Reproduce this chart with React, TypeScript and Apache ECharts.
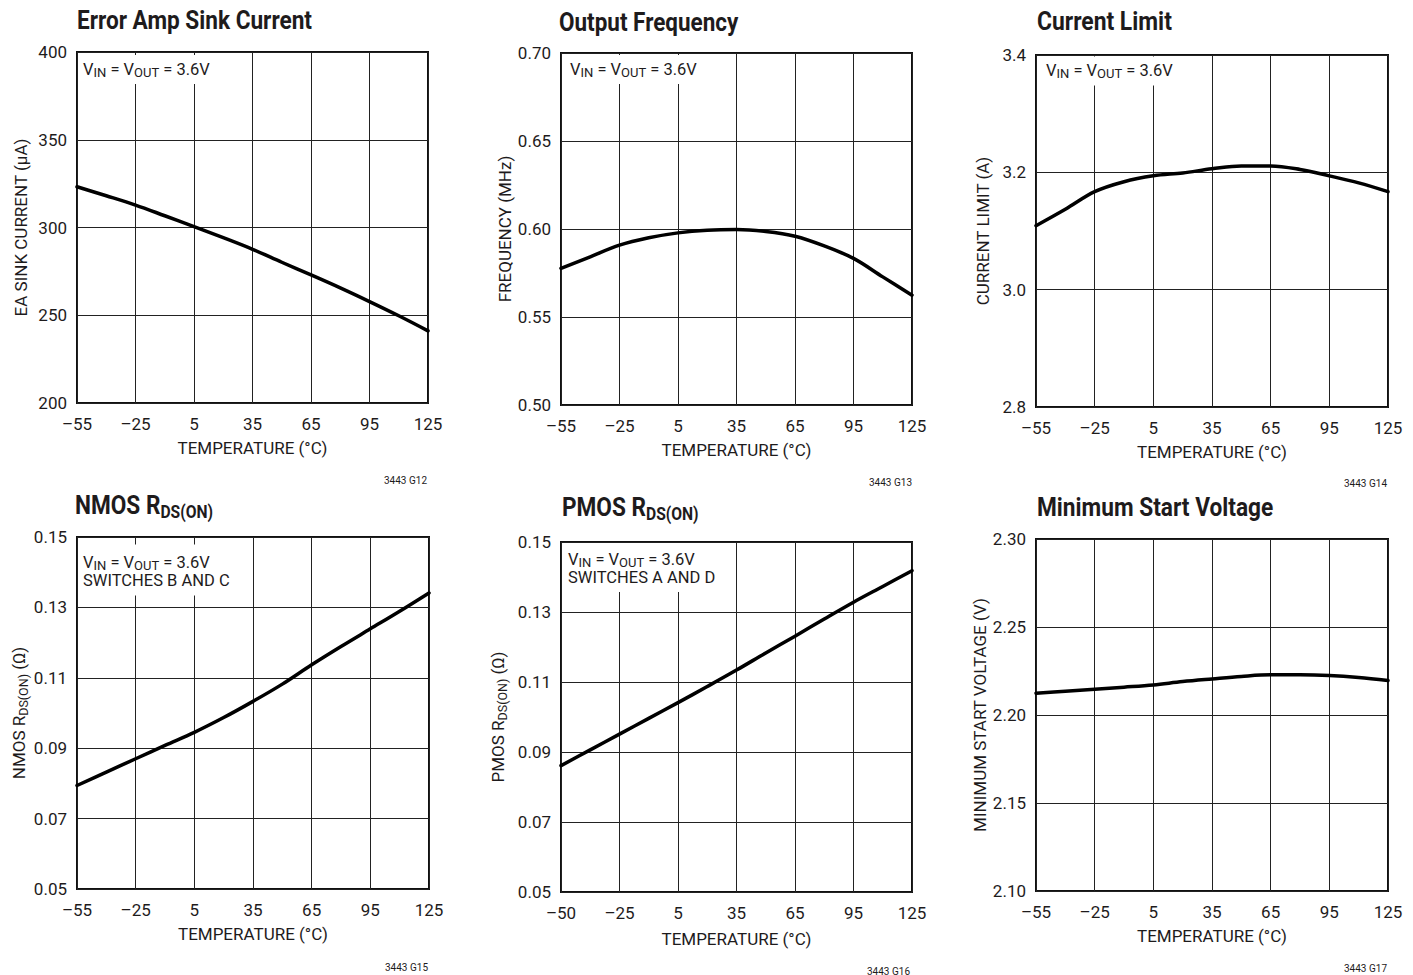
import React, { useEffect, useRef } from "react";
import * as echarts from "echarts";

const FONT = "Roboto, 'Liberation Sans', sans-serif";
const TXT = "#1e1b1c";

// ---- data ----
const temperatures = [-55, -40, -25, -10, 5, 20, 35, 50, 65, 80, 95, 110, 125];

const eaSinkCurrent = [323.2, 318.1, 312.8, 306.7, 300.5, 294.2, 287.6, 280.2, 273.0, 265.6, 257.8, 249.7, 241.1];
const outputFrequency = [0.5776, 0.5842, 0.5908, 0.595, 0.5978, 0.5993, 0.5997, 0.5986, 0.5959, 0.5904, 0.5833, 0.5728, 0.5624];
const currentLimit = [3.109, 3.137, 3.167, 3.184, 3.194, 3.199, 3.206, 3.211, 3.211, 3.205, 3.194, 3.182, 3.167];
const nmosRdsOn = [0.0794, 0.0832, 0.087, 0.0908, 0.0945, 0.0987, 0.1033, 0.1082, 0.1137, 0.1189, 0.1239, 0.1289, 0.1341];
const pmosRdsOn = [0.0861, 0.0906, 0.0951, 0.0996, 0.1041, 0.1087, 0.1134, 0.1183, 0.1231, 0.128, 0.1328, 0.1373, 0.1418];
const minStartVoltage = [2.2124, 2.2135, 2.2146, 2.2158, 2.2171, 2.219, 2.2205, 2.2219, 2.2228, 2.2228, 2.2224, 2.2213, 2.2196];

const tempTickValues = [-55, -25, 5, 35, 65, 95, 125];
const tempTickLabels = ["–55", "–25", "5", "35", "65", "95", "125"];
const pmosTempTickLabels = ["–50", "–25", "5", "35", "65", "95", "125"];

const eaTicks = ["200", "250", "300", "350", "400"];
const freqTicks = ["0.50", "0.55", "0.60", "0.65", "0.70"];
const climTicks = ["2.8", "3.0", "3.2", "3.4"];
const rdsTicks = ["0.05", "0.07", "0.09", "0.11", "0.13", "0.15"];
const vstartTicks = ["2.10", "2.15", "2.20", "2.25", "2.30"];

const titles = [
  "{t|Error Amp Sink Current}",
  "{t|Output Frequency}",
  "{t|Current Limit}",
  "{t|NMOS R}{ts|DS(ON)}",
  "{t|PMOS R}{ts|DS(ON)}",
  "{t|Minimum Start Voltage}",
];
const yNames = [
  "{n|EA SINK CURRENT (μA)}",
  "{n|FREQUENCY (MHz)}",
  "{n|CURRENT LIMIT (A)}",
  "{n|NMOS R}{s|DS(ON)}{n| (Ω)}",
  "{n|PMOS R}{s|DS(ON)}{n| (Ω)}",
  "{n|MINIMUM START VOLTAGE (V)}",
];
const xName = "TEMPERATURE (°C)";
const vinNote = "{n|V}{s|IN}{n| = V}{s|OUT}{n| = 3.6V}";
const notes = [
  [vinNote],
  [vinNote],
  [vinNote],
  [vinNote, "{n|SWITCHES B AND C}"],
  [vinNote, "{n|SWITCHES A AND D}"],
  [],
];
const codes = ["3443 G12", "3443 G13", "3443 G14", "3443 G15", "3443 G16", "3443 G17"];

// ---- layout ----
const panels = [
  { values: eaSinkCurrent, yTicks: eaTicks, xLabels: tempTickLabels, grid: { left: 77, top: 52, width: 351, height: 351 }, yGap: 46, xGap: 36, title: [77, 19.5], note: [79, 55, 5, 6], code: [427, 480] },
  { values: outputFrequency, yTicks: freqTicks, xLabels: tempTickLabels, grid: { left: 561, top: 53, width: 351, height: 352 }, yGap: 44, xGap: 36, title: [559, 21.5], note: [566, 55, 5, 6], code: [912, 482] },
  { values: currentLimit, yTicks: climTicks, xLabels: tempTickLabels, grid: { left: 1036, top: 55, width: 352, height: 352 }, yGap: 43, xGap: 36, title: [1037, 20.5], note: [1042, 56.5, 5, 6], code: [1387, 483] },
  { values: nmosRdsOn, yTicks: rdsTicks, xLabels: tempTickLabels, grid: { left: 77, top: 537, width: 352, height: 352 }, yGap: 47, xGap: 36, title: [75, 504.5], note: [79, 544.5, 9, 6], code: [428, 967] },
  { values: pmosRdsOn, yTicks: rdsTicks, xLabels: pmosTempTickLabels, grid: { left: 561, top: 542, width: 351, height: 350 }, yGap: 53, xGap: 38, title: [562, 507], note: [564, 543, 7, 6], code: [910, 971] },
  { values: minStartVoltage, yTicks: vstartTicks, xLabels: tempTickLabels, grid: { left: 1036, top: 539, width: 352, height: 352 }, yGap: 43, xGap: 36, title: [1037, 506.5], note: [0, 0, 0, 0], code: [1387, 968] },
];
const titleScale = [0.87, 0.865, 0.88, 0.87, 0.87, 0.873];

function buildOption() {
  const titleRich = {
    t: { fontSize: 26, fontWeight: "bold", fontFamily: FONT, lineHeight: 30, fill: TXT, color: TXT },
    ts: { fontSize: 18, fontWeight: "bold", fontFamily: FONT, lineHeight: 30, padding: [14, 0, 0, 0], fill: TXT, color: TXT },
  };
  const yNameRich = {
    n: { fontSize: 17, fontFamily: FONT, lineHeight: 20, color: TXT },
    s: { fontSize: 12.5, fontFamily: FONT, lineHeight: 20, padding: [8, 0, 0, 0], color: TXT },
  };
  const noteRich = {
    n: { fontSize: 16.5, fontFamily: FONT, lineHeight: 18, fill: TXT, color: TXT },
    s: { fontSize: 13, fontFamily: FONT, lineHeight: 18, padding: [6, 0, 0, 0], fill: TXT, color: TXT },
  };

  const xMin = tempTickValues[0];
  const xMax = tempTickValues[tempTickValues.length - 1];
  const xInt = tempTickValues[1] - tempTickValues[0];

  const grid = panels.map((p) => ({
    ...p.grid,
    show: true,
    borderColor: "#111",
    borderWidth: 2,
    backgroundColor: "rgba(0,0,0,0)",
    containLabel: false,
  }));

  const xAxis = panels.map((p, i) => ({
    type: "value",
    gridIndex: i,
    min: xMin,
    max: xMax,
    interval: xInt,
    axisLine: { show: false },
    axisTick: { show: false },
    splitLine: { show: true, lineStyle: { color: "#222", width: 1 } },
    axisLabel: {
      color: TXT,
      fontSize: 17,
      fontFamily: FONT,
      margin: 12,
      showMinLabel: true,
      showMaxLabel: true,
      hideOverlap: false,
      formatter: (v: number) => {
        const k = tempTickValues.indexOf(Math.round(v));
        return k >= 0 ? p.xLabels[k] : "";
      },
    },
    name: xName,
    nameLocation: "middle",
    nameGap: p.xGap,
    nameTextStyle: { color: TXT, fontSize: 17, fontFamily: FONT },
  }));

  const yAxis = panels.map((p, i) => {
    const min = parseFloat(p.yTicks[0]);
    const max = parseFloat(p.yTicks[p.yTicks.length - 1]);
    const interval = Math.round((parseFloat(p.yTicks[1]) - min) * 1e6) / 1e6;
    return {
      type: "value",
      gridIndex: i,
      min,
      max,
      interval,
      axisLine: { show: false },
      axisTick: { show: false },
      splitLine: { show: true, lineStyle: { color: "#222", width: 1 } },
      axisLabel: {
        color: TXT,
        fontSize: 17,
        fontFamily: FONT,
        margin: 10,
        showMinLabel: true,
        showMaxLabel: true,
        hideOverlap: false,
        formatter: (v: number) => {
          const k = Math.round((v - min) / interval);
          return p.yTicks[k] ?? "";
        },
      },
      name: yNames[i],
      nameLocation: "middle",
      nameRotate: 90,
      nameGap: p.yGap,
      nameTextStyle: { rich: yNameRich, color: TXT, fontSize: 17, fontFamily: FONT },
    };
  });

  const series = panels.map((p, i) => ({
    type: "line",
    xAxisIndex: i,
    yAxisIndex: i,
    data: temperatures.map((t, k) => [t, p.values[k]]),
    showSymbol: false,
    symbol: "none",
    smooth: 0.35,
    lineStyle: { color: "#000", width: 3.5, cap: "round", join: "round" },
    z: 5,
  }));

  const graphic: any[] = [];
  panels.forEach((p, i) => {
    graphic.push({
      type: "text",
      x: p.title[0],
      y: p.title[1],
      scaleX: titleScale[i],
      z: 100,
      style: {
        text: titles[i],
        rich: titleRich,
        fill: TXT,
        align: "left",
        verticalAlign: "middle",
        textAlign: "left",
        textVerticalAlign: "middle",
      },
    });
    if (notes[i].length) {
      graphic.push({
        type: "text",
        x: p.note[0],
        y: p.note[1],
        z: 100,
        style: {
          text: notes[i].join("\n"),
          rich: noteRich,
          fill: TXT,
          backgroundColor: "#fff",
          padding: [p.note[2], 10, p.note[3], 4],
          align: "left",
          verticalAlign: "top",
          textAlign: "left",
          textVerticalAlign: "top",
        },
      });
    }
    graphic.push({
      type: "text",
      x: p.code[0],
      y: p.code[1],
      z: 100,
      style: {
        text: codes[i],
        fill: TXT,
        font: `10px ${FONT}`,
        fontSize: 10,
        fontFamily: FONT,
        align: "right",
        verticalAlign: "middle",
        textAlign: "right",
        textVerticalAlign: "middle",
      },
    });
  });

  return {
    animation: false,
    backgroundColor: "#fff",
    textStyle: { fontFamily: FONT, color: TXT },
    grid,
    xAxis,
    yAxis,
    series,
    graphic,
  };
}

export default function App() {
  const ref = useRef<HTMLDivElement>(null);
  useEffect(() => {
    if (!ref.current) return;
    const chart = echarts.init(ref.current, null, { renderer: "svg" });
    chart.setOption(buildOption() as any);
    return () => chart.dispose();
  }, []);
  return (
    <div
      ref={ref}
      style={{ position: "absolute", left: 0, top: 0, width: 1413, height: 975, background: "#fff" }}
    />
  );
}
